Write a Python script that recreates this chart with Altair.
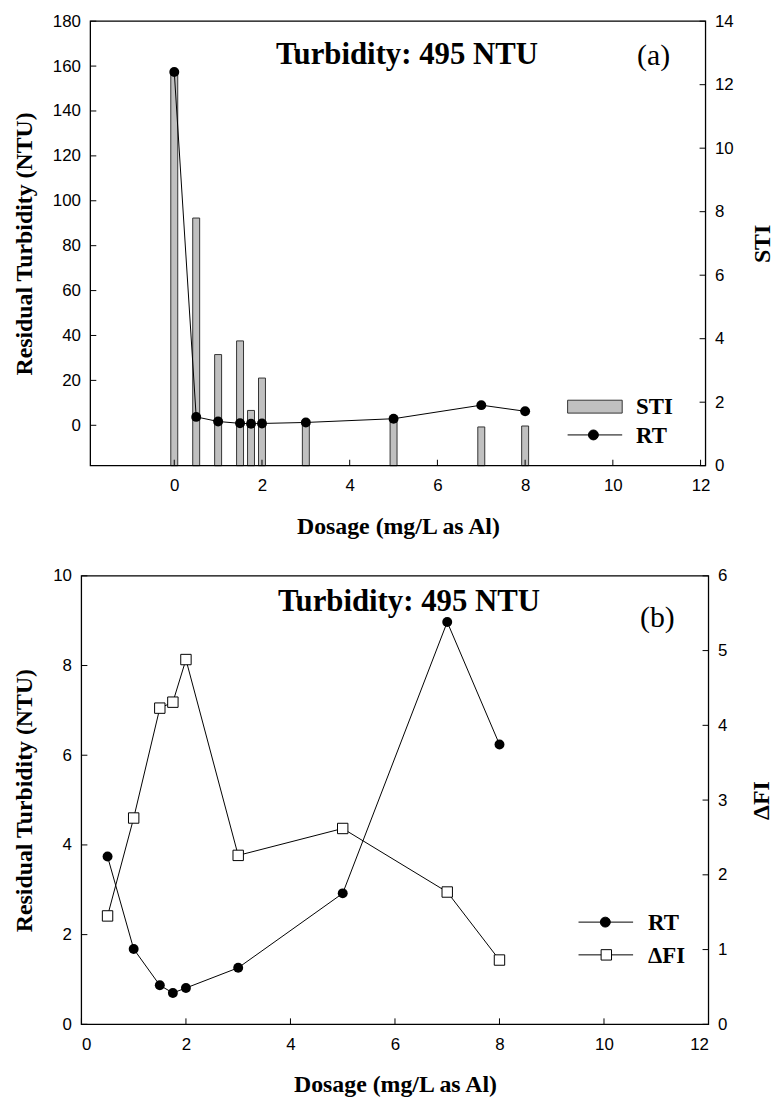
import altair as alt
import pandas as pd

# ---------------- data ----------------
dose_a = [0, 0.5, 1, 1.5, 1.75, 2, 3, 5, 7, 8]
sti_a = [12.4, 7.8, 3.5, 3.93, 1.74, 2.76, 1.35, 1.45, 1.22, 1.25]
rt_a = [157.4, 3.74, 1.68, 0.87, 0.70, 0.81, 1.26, 2.92, 8.97, 6.24]

dose_b = [0.5, 1, 1.5, 1.75, 2, 3, 5, 7, 8]
rt_b = [3.74, 1.68, 0.87, 0.70, 0.81, 1.26, 2.92, 8.97, 6.24]
dfi_b = [1.45, 2.76, 4.23, 4.31, 4.88, 2.26, 2.62, 1.77, 0.86]

x_ticks = [0, 2, 4, 6, 8, 10, 12]
left_ticks_a = [0, 20, 40, 60, 80, 100, 120, 140, 160, 180]
right_ticks_a = [0, 2, 4, 6, 8, 10, 12, 14]
left_ticks_b = [0, 2, 4, 6, 8, 10]
right_ticks_b = [0, 1, 2, 3, 4, 5, 6]

panel_titles = ["Turbidity: 495 NTU", "Turbidity: 495 NTU"]
panel_tags = ["(a)", "(b)"]
legend_a = ["STI", "RT"]
legend_b = ["RT", "ΔFI"]
x_title = "Dosage (mg/L as Al)"
left_title = "Residual Turbidity (NTU)"
right_titles = ["STI", "ΔFI"]

SERIF = "Liberation Serif"
SANS = "Liberation Sans"

# panel (a): plot area 0..620 ; panel (b): view 0..623, frame drawn from -9..623
W1, H1 = 620, 448
W2, H2 = 623, 452
L2 = -9  # left edge of panel (b) frame relative to the shared origin


def X(field, dom, x0, x1):
    return alt.X(f"{field}:Q", scale=alt.Scale(domain=dom, nice=False, zero=False, range=[x0, x1]),
                 axis=alt.Axis(values=x_ticks, title=x_title, labelPadding=12,
                               titleX=(x0 + x1) / 2, titleY=61, titleAlign="center",
                               titleBaseline="middle"))


def YL(field, dom, ticks, H, pad):
    return alt.Y(f"{field}:Q", scale=alt.Scale(domain=dom, nice=False, zero=False),
                 axis=alt.Axis(orient="left", values=ticks, title=left_title, labelPadding=pad,
                               titleX=-66, titleY=H / 2, titleAngle=270,
                               titleAlign="center", titleBaseline="middle"))


def YR(field, dom, ticks, H, tx, title):
    return alt.Y(f"{field}:Q", scale=alt.Scale(domain=dom, nice=False, zero=False),
                 axis=alt.Axis(orient="right", values=ticks, title=title, labelPadding=9,
                               titleX=tx, titleY=H / 2, titleAngle=270,
                               titleAlign="center", titleBaseline="middle"))


def one():
    return alt.Chart(pd.DataFrame({"a": [0]}))


def text_layer(s, x, y, size, bold=True, align="left", baseline="alphabetic"):
    return alt.Chart(pd.DataFrame({"t": [s]})).mark_text(
        font=SERIF, fontSize=size, fontWeight="bold" if bold else "normal",
        align=align, baseline=baseline, color="black"
    ).encode(x=alt.value(x), y=alt.value(y), text="t:N")


def seg(x1, x2, y):
    return one().mark_rule(color="black", strokeWidth=1).encode(
        x=alt.value(x1), x2=alt.value(x2), y=alt.value(y))


def sym(x, y, shape, filled, size):
    return one().mark_point(
        shape=shape, filled=True, size=size, opacity=1,
        fill="black" if filled else "white", stroke="black", strokeWidth=1
    ).encode(x=alt.value(x), y=alt.value(y))


def frame(x0, x1, H):
    return one().mark_rect(fillOpacity=0, stroke="black", strokeWidth=1.3).encode(
        x=alt.value(x0), x2=alt.value(x1), y=alt.value(0), y2=alt.value(H))


# ---------------- panel (a) ----------------
XDOM_A = [-1.8, 12]
LDOM_A = [-18, 180]
RDOM_A = [0, 14]
dfa = pd.DataFrame({"dose": dose_a, "RT": rt_a, "STI": sti_a})

xa = X("dose", XDOM_A, 0, W1)
yla = YL("RT", LDOM_A, left_ticks_a, H1, 10)
yra = YR("STI", RDOM_A, right_ticks_a, H1, 57, right_titles[0])

bars_a = alt.Chart(dfa).mark_bar(size=7, fill="#c0c0c0", stroke="#333333", strokeWidth=1).encode(
    x=xa, y=yra)
rticks_a = alt.Chart(pd.DataFrame({"STI": right_ticks_a})).mark_rule(color="black", strokeWidth=1).encode(
    y=yra, x=alt.value(W1 - 6), x2=alt.value(W1))

line_a = alt.Chart(dfa).mark_line(color="black", strokeWidth=1).encode(x=xa, y=yla)
pts_a = alt.Chart(dfa).mark_point(shape="circle", filled=True, size=100, color="black", opacity=1).encode(
    x=xa, y=yla)
lticks_a = alt.Chart(pd.DataFrame({"RT": left_ticks_a})).mark_rule(color="black", strokeWidth=1).encode(
    y=yla, x=alt.value(0), x2=alt.value(6))
xticks_a = alt.Chart(pd.DataFrame({"dose": x_ticks})).mark_rule(color="black", strokeWidth=1).encode(
    x=xa, y=alt.value(H1), y2=alt.value(H1 - 6))

leg_rect_a = one().mark_rect(fill="#c0c0c0", stroke="#333333", strokeWidth=1).encode(
    x=alt.value(481), x2=alt.value(536), y=alt.value(382), y2=alt.value(395))

left_a = alt.layer(
    xticks_a, lticks_a, line_a, pts_a,
    leg_rect_a,
    text_layer(legend_a[0], 550, 389, 23, baseline="middle"),
    seg(481, 536, 417), sym(507, 417, "circle", True, 100),
    text_layer(legend_a[1], 550, 418, 23, baseline="middle"),
    text_layer(panel_titles[0], 187, 43, 31),
    text_layer(panel_tags[0], 551, 44, 30, bold=False),
    frame(0, W1, H1),
)
right_a = alt.layer(bars_a, rticks_a)

top = alt.layer(right_a, left_a).resolve_scale(y="independent").properties(width=W1, height=H1)

# ---------------- panel (b) ----------------
XDOM_B = [0, 12]
LDOM_B = [0, 10]
RDOM_B = [0, 6]
dfb = pd.DataFrame({"dose": dose_b, "RT": rt_b, "DFI": dfi_b})

xb = X("dose", XDOM_B, L2, W2)
ylb = YL("RT", LDOM_B, left_ticks_b, H2, 10 - L2)
yrb = YR("DFI", RDOM_B, right_ticks_b, H2, 53, right_titles[1])

line_b = alt.Chart(dfb).mark_line(color="black", strokeWidth=1).encode(x=xb, y=ylb)
pts_b = alt.Chart(dfb).mark_point(shape="circle", filled=True, size=100, color="black", opacity=1).encode(
    x=xb, y=ylb)
lticks_b = alt.Chart(pd.DataFrame({"RT": left_ticks_b})).mark_rule(color="black", strokeWidth=1).encode(
    y=ylb, x=alt.value(L2), x2=alt.value(L2 + 6))
xticks_b = alt.Chart(pd.DataFrame({"dose": x_ticks})).mark_rule(color="black", strokeWidth=1).encode(
    x=xb, y=alt.value(H2), y2=alt.value(H2 - 6))

dline_b = alt.Chart(dfb).mark_line(color="black", strokeWidth=1).encode(x=xb, y=yrb)
dpts_b = alt.Chart(dfb).mark_point(shape="square", filled=True, size=110, fill="white",
                                   stroke="black", strokeWidth=1, opacity=1).encode(x=xb, y=yrb)
rticks_b = alt.Chart(pd.DataFrame({"DFI": right_ticks_b})).mark_rule(color="black", strokeWidth=1).encode(
    y=yrb, x=alt.value(W2 - 6), x2=alt.value(W2))

left_b = alt.layer(
    xticks_b, lticks_b, line_b, pts_b,
    seg(L2 + 501, L2 + 556, 349), sym(L2 + 528, 349, "circle", True, 100),
    text_layer(legend_b[0], L2 + 571, 350, 23, baseline="middle"),
    text_layer(panel_titles[1], L2 + 198, 35, 31),
    text_layer(panel_tags[1], L2 + 563, 52, 30, bold=False),
    frame(L2, W2, H2),
)
right_b = alt.layer(
    rticks_b, dline_b, dpts_b,
    seg(L2 + 501, L2 + 556, 382), sym(L2 + 529, 382, "square", False, 110),
    text_layer(legend_b[1], L2 + 571, 383, 23, baseline="middle"),
)

bottom = alt.layer(left_b, right_b).resolve_scale(y="independent").properties(width=W2, height=H2)

chart = alt.vconcat(top, bottom, spacing=29).properties(
    padding={"left": 5, "top": 0, "right": 0, "bottom": 0}
).configure_view(
    strokeWidth=0
).configure_axis(
    domain=False, ticks=False, tickSize=0, grid=False,
    labelFont=SANS, labelFontSize=17, labelColor="black",
    titleFont=SERIF, titleFontSize=24, titleFontWeight="bold", titleColor="black"
)

chart.save("out.html", embed_options={"renderer": "svg", "actions": False})
